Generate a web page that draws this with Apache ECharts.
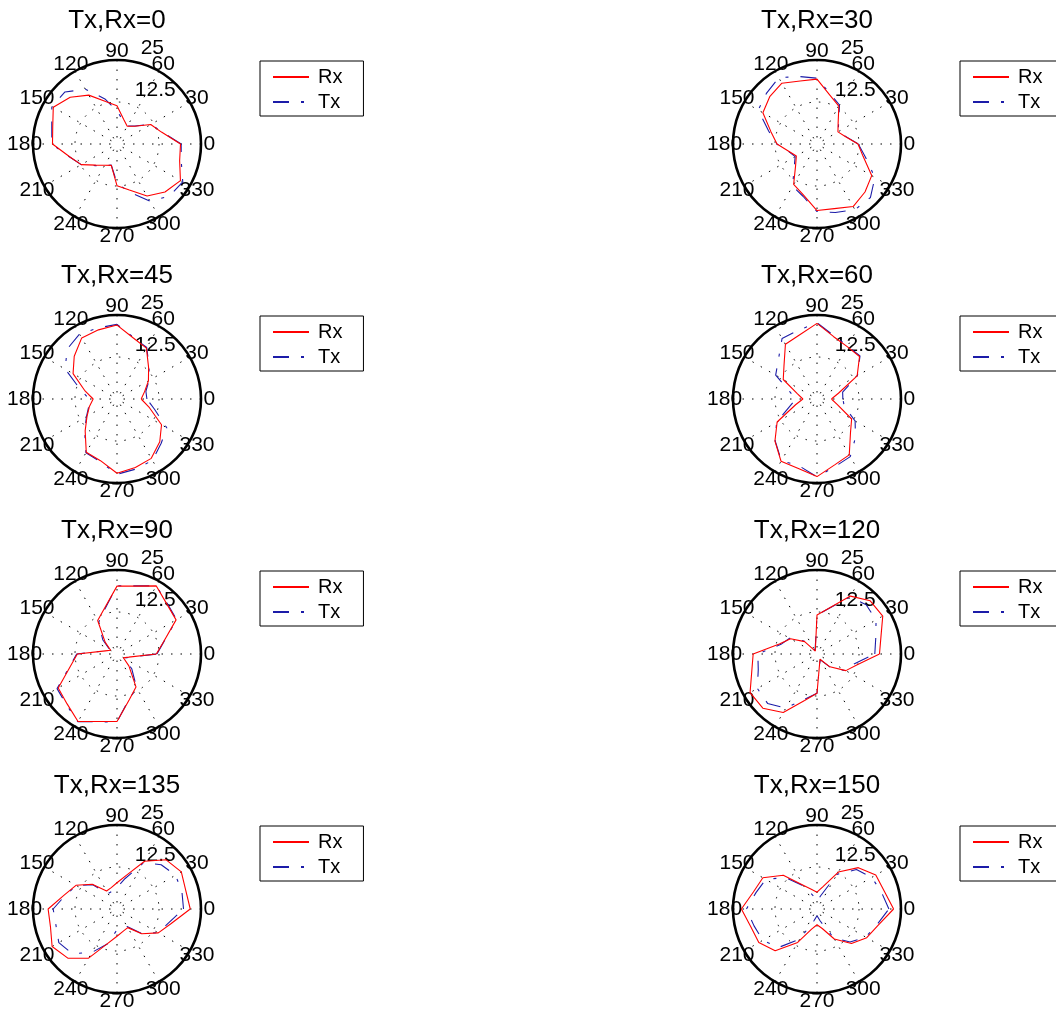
<!DOCTYPE html>
<html><head><meta charset="utf-8">
<script src="https://cdn.jsdelivr.net/npm/echarts@6/dist/echarts.min.js"></script>
<style>html,body{margin:0;padding:0;background:#fff}#c{width:1056px;height:1010px}</style>
</head><body><div id="c"></div>
<script>
// ---- data ----
const angles = [0,15,30,45,60,75,90,105,120,135,150,165,180,195,210,225,240,255,270,285,300,315,330,345];
const angleTickValues = [0,30,60,90,120,150,180,210,240,270,300,330];
const angleTickLabels = ['0','30','60','90','120','150','180','210','240','270','300','330'];
const radialTickValues = [12.5, 25];
const radialTickLabels = ['12.5', '25'];
const radialMax = 25;
const titles = ['Tx,Rx=0','Tx,Rx=30','Tx,Rx=45','Tx,Rx=60','Tx,Rx=90','Tx,Rx=120','Tx,Rx=135','Tx,Rx=150'];
const seriesNames = ['Rx','Tx'];

const rx0   = [18.9,13.7,11.6,7.5,6.1,7.6,11.4,13.1,16.8,19.7,21.9,19.8,19.2,14.6,12.3,8.9,7.3,6.6,12.4,14.2,17.9,20.2,21.8,19.3];
const tx0   = [19.1,13.9,11.7,7.6,6.2,7.1,9.9,13.9,18.8,21.9,22.4,20.1,19.4,14.7,12.3,9.1,7.4,6.5,11.7,14.9,19.6,22.0,22.6,19.8];
const rx30  = [12.2,8.7,7.2,8.9,13.0,15.0,19.3,19.4,20.9,19.9,18.6,14.2,11.9,8.6,7.1,9.0,13.9,15.7,19.8,19.9,21.5,20.2,18.8,14.2];
const tx30  = [12.3,8.8,7.3,9.1,13.4,15.4,19.6,20.8,22.8,21.3,20.2,14.9,12.0,8.7,7.5,9.6,14.5,16.1,20.1,21.1,22.6,22.5,19.9,14.9];
const rx45  = [7.2,8.5,10.8,13.3,17.5,18.8,22.0,21.3,21.0,18.0,15.1,10.0,7.1,8.5,10.3,13.4,18.3,19.0,22.1,21.1,20.4,18.0,15.3,10.0];
const tx45  = [8.9,8.9,11.0,13.5,17.7,19.0,22.2,21.9,22.3,21.0,17.8,11.4,8.3,8.7,10.5,13.6,18.5,19.3,22.4,21.6,21.1,18.6,17.1,11.5];
const rx60  = [4.3,6.6,13.8,17.9,18.0,19.2,22.5,19.8,18.8,13.9,11.6,6.0,4.2,6.6,13.7,17.7,21.4,21.4,23.1,20.3,19.2,14.1,11.9,6.2];
const tx60  = [7.7,7.9,13.9,18.1,18.2,19.5,22.7,21.2,20.8,16.3,14.2,8.4,6.3,8.4,13.9,17.6,21.2,20.6,23.2,20.8,19.8,16.2,13.1,8.4];
const rx90  = [11.7,14.4,20.3,21.0,23.4,20.9,20.2,14.2,11.5,5.0,2.2,3.6,11.8,14.4,20.2,21.0,23.2,20.8,20.1,14.1,11.3,5.0,2.2,3.6];
const tx90  = [11.9,14.5,20.5,21.2,23.4,21.0,20.3,13.9,10.9,6.0,2.4,3.6,12.0,14.6,20.6,21.3,23.3,20.9,20.2,13.9,11.7,6.2,2.4,3.8];
const rx120 = [18.6,19.7,22.6,22.4,19.9,14.2,11.6,1.8,1.0,5.2,9.1,11.6,19.0,20.1,23.0,22.8,20.1,14.3,11.7,3.0,1.8,5.4,9.9,12.4];
const tx120 = [17.2,18.1,20.3,20.7,19.6,14.1,11.6,2.0,1.2,5.5,9.4,11.1,17.6,18.1,20.5,20.8,18.6,13.9,11.7,3.0,2.0,5.6,10.1,11.4];
const rx135 = [21.8,21.2,22.1,20.7,16.4,10.3,7.8,6.6,6.2,10.4,14.1,16.2,20.5,20.5,22.3,20.7,16.9,10.6,8.1,6.9,6.4,10.4,14.2,16.7];
const tx135 = [19.8,20.0,20.1,18.6,15.9,9.4,6.4,5.5,5.3,10.2,13.9,15.9,19.0,18.8,20.0,18.8,14.9,10.7,6.2,5.6,6.0,10.2,14.1,15.9];
const rx150 = [22.8,20.7,20.2,17.4,12.7,6.9,5.0,6.0,8.2,14.2,18.6,19.6,22.5,20.4,20.0,17.6,11.5,6.2,4.7,6.0,10.3,14.5,17.1,18.8];
const tx150 = [21.4,19.8,18.8,16.6,11.9,4.0,2.2,4.0,7.9,13.3,17.6,18.8,21.0,19.4,18.6,16.2,10.4,3.7,2.0,3.7,9.9,13.9,16.7,18.4];

const panels = [
  {title: titles[0], rx: rx0,   tx: tx0},
  {title: titles[1], rx: rx30,  tx: tx30},
  {title: titles[2], rx: rx45,  tx: tx45},
  {title: titles[3], rx: rx60,  tx: tx60},
  {title: titles[4], rx: rx90,  tx: tx90},
  {title: titles[5], rx: rx120, tx: tx120},
  {title: titles[6], rx: rx135, tx: tx135},
  {title: titles[7], rx: rx150, tx: tx150}
];

// ---- layout ----
const FONT = '"Liberation Sans", Arial, Helvetica, sans-serif';
const colX = [117, 817];
const rowY = [144, 399, 654, 909];
const R = 84;
const dotted = [1.5, 8];
const RX_COLOR = '#ff0000';
const TX_COLOR = '#1c1ca8';
const TX_DASH = [16, 12, 3, 12];

const polar = [], angleAxis = [], radiusAxis = [], series = [], legend = [], graphic = [];

panels.forEach((p, i) => {
  const cx = colX[i % 2], cy = rowY[Math.floor(i / 2)];
  polar.push({center: [cx, cy], radius: R});
  angleAxis.push({
    polarIndex: i, type: 'value', min: 0, max: 360, interval: 30,
    startAngle: 0, clockwise: false,
    axisLine: {show: true, lineStyle: {color: '#000', width: 2.6}},
    axisTick: {show: false}, axisLabel: {show: false},
    splitLine: {show: true, lineStyle: {color: '#000', width: 1, type: dotted}}
  });
  radiusAxis.push({
    polarIndex: i, type: 'value', min: 0, max: radialMax, interval: 12.5,
    axisLine: {show: false}, axisTick: {show: false}, axisLabel: {show: false},
    splitLine: {show: true, lineStyle: {color: '#000', width: 1, type: dotted}}
  });
  const mk = arr => angles.map((a, k) => [arr[k], a]).concat([[arr[0], 360]]);
  series.push({
    name: seriesNames[0], type: 'line', coordinateSystem: 'polar', polarIndex: i,
    data: mk(p.rx), symbol: 'none', smooth: false, z: 3,
    lineStyle: {color: RX_COLOR, width: 1.1}, itemStyle: {color: RX_COLOR}
  });
  series.push({
    name: seriesNames[1], type: 'line', coordinateSystem: 'polar', polarIndex: i,
    data: mk(p.tx), symbol: 'none', smooth: false, z: 2,
    lineStyle: {color: TX_COLOR, width: 1.1, type: TX_DASH}, itemStyle: {color: TX_COLOR}
  });
  legend.push({
    data: seriesNames, orient: 'vertical', left: cx + 143, top: cy - 83,
    borderColor: '#000', borderWidth: 1, borderRadius: 0, backgroundColor: '#fff',
    padding: [6, 21, 4, 12], itemGap: 5, itemWidth: 36, itemHeight: 12,
    selectedMode: false,
    itemStyle: {opacity: 0, color: 'transparent', borderWidth: 0},
    textStyle: {fontSize: 20, fontFamily: FONT, color: '#000', padding: [0, 0, 0, 4]}
  });
  // title
  graphic.push({type: 'text', x: cx, y: cy - 123, style: {
    text: p.title, fontSize: 26, fontFamily: FONT, fill: '#000',
    textAlign: 'center', textVerticalAlign: 'middle'}});
  // angle tick labels
  angleTickValues.forEach((a, k) => {
    const t = a * Math.PI / 180;
    graphic.push({type: 'text', x: cx + 1.1 * R * Math.cos(t), y: cy - 1.1 * R * Math.sin(t), style: {
      text: angleTickLabels[k], fontSize: 21, fontFamily: FONT, fill: '#000',
      textAlign: 'center', textVerticalAlign: 'middle'}});
  });
  // radial tick labels (placed like MATLAB polar: at 82 degrees, just outside each ring)
  const t82 = 82 * Math.PI / 180;
  radialTickValues.forEach((v, k) => {
    const rp = (v + 12.5 / 20) / radialMax * R;
    graphic.push({type: 'text', x: cx + rp * Math.cos(t82) + 0.556 * 21, y: cy - rp * Math.sin(t82), style: {
      text: radialTickLabels[k], fontSize: 21, fontFamily: FONT, fill: '#000',
      textAlign: 'left', textVerticalAlign: 'bottom'}});
  });
});

const chart = echarts.init(document.getElementById('c'), null, {renderer: 'canvas'});
chart.setOption({
  animation: false, backgroundColor: '#fff',
  polar, angleAxis, radiusAxis, series, legend, graphic
});
</script></body></html>
